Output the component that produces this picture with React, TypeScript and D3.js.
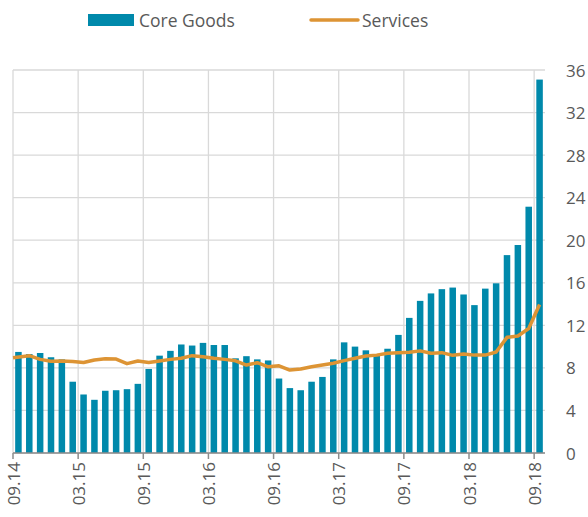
import React from "react";
import * as d3 from "d3";

const months: string[] = d3
  .timeMonths(new Date(2014, 8, 1), new Date(2018, 9, 1))
  .map((d) => d3.timeFormat("%m.%y")(d));

const coreGoods: number[] = [
  9.5, 9.3, 9.4, 9.0, 8.8, 6.7, 5.5, 5.0, 5.85, 5.9, 6.0, 6.5,
  7.9, 9.15, 9.6, 10.2, 10.1, 10.35, 10.15, 10.15, 8.9, 9.1, 8.8, 8.7,
  7.0, 6.1, 5.9, 6.7, 7.15, 8.8, 10.4, 10.0, 9.65, 9.2, 9.8, 11.1,
  12.7, 14.3, 15.0, 15.4, 15.55, 14.9, 13.9, 15.45, 15.95, 18.6, 19.55, 23.15, 35.1,
];

const services: number[] = [
  8.96, 9.15, 8.8, 8.62, 8.65, 8.6, 8.5, 8.74, 8.86, 8.83, 8.4, 8.65,
  8.5, 8.65, 8.8, 8.9, 9.15, 9.05, 8.9, 8.8, 8.67, 8.27, 8.49, 8.1,
  8.2, 7.8, 7.9, 8.1, 8.27, 8.43, 8.68, 8.9, 9.12, 9.2, 9.37, 9.43,
  9.46, 9.6, 9.37, 9.43, 9.18, 9.3, 9.2, 9.2, 9.49, 10.87, 11.0, 11.7, 13.95,
];

const yTicks: number[] = [0, 4, 8, 12, 16, 20, 24, 28, 32, 36];
const seriesNames: string[] = ["Core Goods", "Services"];

const BAR = "#0089ab";
const LINE = "#dd9434";
const GRID = "#d9d9d9";
const TEXT = "#595959";
const FONT = "'Open Sans', 'Noto Sans', sans-serif";

export default function App() {
  const W = 588;
  const H = 517;
  const left = 13;
  const right = 545;
  const top = 70;
  const bottom = 453;

  const x = d3
    .scaleBand<string>()
    .domain(months)
    .range([left, right])
    .paddingInner(0.4)
    .paddingOuter(0.2);
  const step = x.step();
  const slotStart = (m: string) => (x(m) as number) - step * 0.2;
  const cx = (m: string) => (x(m) as number) + x.bandwidth() / 2;

  const y = d3.scaleLinear().domain([0, 36]).range([bottom, top]);

  const tickMonths = months.filter((_, i) => i % 6 === 0);

  const line = d3
    .line<number>()
    .x((_, i) => (i === 0 ? left : cx(months[i])))
    .y((d) => y(d))
    .curve(d3.curveLinear);

  return (
    <svg
      width={W}
      height={H}
      style={{ position: "absolute", left: 0, top: 0, background: "#fff" }}
      fontFamily={FONT}
    >
      {yTicks.map((t) => (
        <line
          key={"h" + t}
          x1={left}
          x2={right}
          y1={y(t)}
          y2={y(t)}
          stroke={GRID}
          strokeWidth={1.3}
        />
      ))}
      {tickMonths.map((m) => (
        <line
          key={"v" + m}
          x1={slotStart(m)}
          x2={slotStart(m)}
          y1={top}
          y2={bottom}
          stroke={GRID}
          strokeWidth={1.3}
        />
      ))}
      {coreGoods.map((v, i) => (
        <rect
          key={"b" + i}
          x={x(months[i])}
          y={y(v)}
          width={x.bandwidth()}
          height={y(0) - y(v)}
          fill={BAR}
        />
      ))}
      <path
        d={line(services) || ""}
        fill="none"
        stroke={LINE}
        strokeWidth={3.5}
        strokeLinejoin="round"
      />
      <line x1={left} x2={right} y1={bottom} y2={bottom} stroke="#8c8c8c" strokeWidth={1.5} />
      {tickMonths.map((m) => (
        <g key={"t" + m}>
          <line
            x1={slotStart(m)}
            x2={slotStart(m)}
            y1={bottom}
            y2={bottom + 6}
            stroke="#8c8c8c"
            strokeWidth={1.5}
          />
          <text
            transform={`translate(${slotStart(m)},${bottom + 9}) rotate(-90)`}
            textAnchor="end"
            dominantBaseline="central"
            fontSize={17}
            fill={TEXT}
          >
            {m}
          </text>
        </g>
      ))}
      {yTicks.map((t) => (
        <text
          key={"yl" + t}
          x={566}
          y={y(t)}
          dominantBaseline="central"
          fontSize={17}
          fill={TEXT}
        >
          {t}
        </text>
      ))}
      <rect x={88} y={14} width={46} height={12} fill={BAR} />
      <text x={139} y={20} dominantBaseline="central" fontSize={17.5} fill={TEXT}>
        {seriesNames[0]}
      </text>
      <line x1={311} x2={358} y1={20} y2={20} stroke={LINE} strokeWidth={3.5} strokeLinecap="round" />
      <text x={362} y={20} dominantBaseline="central" fontSize={17.5} fill={TEXT}>
        {seriesNames[1]}
      </text>
    </svg>
  );
}
